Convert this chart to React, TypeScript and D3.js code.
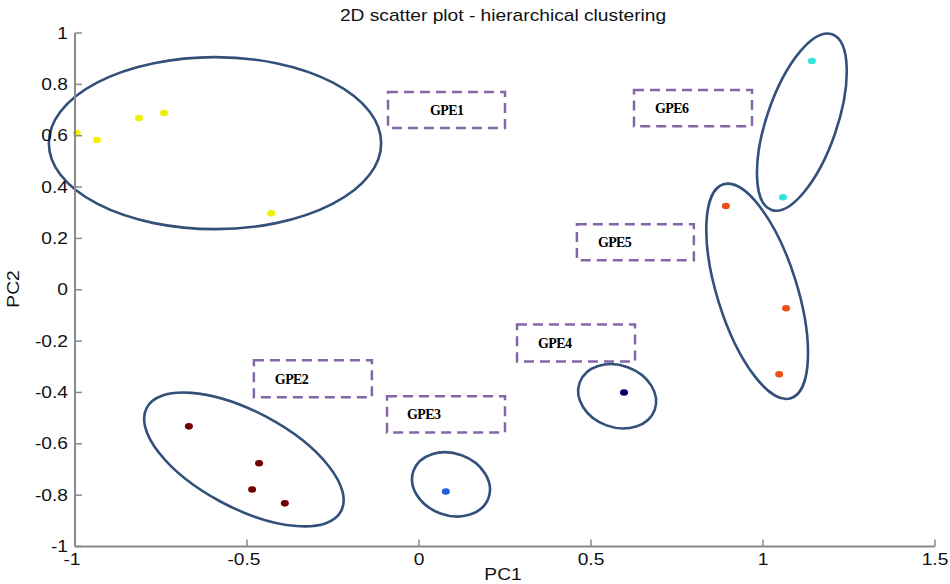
import React from "react";
import * as d3 from "d3";

const title = "2D scatter plot - hierarchical clustering";
const xLabel = "PC1";
const yLabel = "PC2";
const xTicks = [-1, -0.5, 0, 0.5, 1, 1.5];
const yTicks = [-1, -0.8, -0.6, -0.4, -0.2, 0, 0.2, 0.4, 0.6, 0.8, 1];

const clusterNames = ["GPE1", "GPE2", "GPE3", "GPE4", "GPE5", "GPE6"];
const clusterColors = ["#eef200", "#720000", "#1f5fe0", "#00006a", "#ec4f1c", "#34e4dc"];

const pointX = [-0.995, -0.936, -0.814, -0.741, -0.43, -0.669, -0.465, -0.485, -0.39, 0.078, 0.596, 0.892, 1.067, 1.047, 1.142, 1.058];
const pointY = [0.61, 0.583, 0.669, 0.688, 0.298, -0.532, -0.676, -0.778, -0.832, -0.786, -0.4, 0.326, -0.072, -0.329, 0.891, 0.36];
const pointCluster = [0, 0, 0, 0, 0, 1, 1, 1, 1, 2, 3, 4, 4, 4, 5, 5];

// cluster ellipses (center in PC units, semi-axes in PC1 units, angle in degrees)
const ellCx = [-0.593, -0.509, 0.093, 0.576, 0.983, 1.113];
const ellCy = [0.571, -0.661, -0.758, -0.415, -0.006, 0.653];
const ellA = [0.483, 0.32, 0.116, 0.116, 0.326, 0.27];
const ellB = [0.25, 0.14, 0.09, 0.09, 0.116, 0.102];
const ellAngle = [0, 28, 20, 20, 72.5, -71];

// annotation boxes (PC units)
const boxX0 = [-0.09, -0.48, -0.093, 0.285, 0.459, 0.625];
const boxX1 = [0.25, -0.137, 0.25, 0.628, 0.799, 0.968];
const boxY0 = [0.77, -0.275, -0.415, -0.135, 0.255, 0.778];
const boxY1 = [0.63, -0.419, -0.556, -0.279, 0.115, 0.637];
const labelX = [0.032, -0.419, -0.035, 0.346, 0.52, 0.686];

const W = 950;
const H = 584;
const left = 75;
const right = 935;
const top = 33;
const bottom = 546.5;
const stretch = 1.2;

function SText(props: {
  x: number;
  y: number;
  anchor?: string;
  size?: number;
  rotate?: number;
  children: React.ReactNode;
}) {
  const { x, y, anchor = "start", size = 16, rotate = 0, children } = props;
  return (
    <text
      transform={`translate(${x},${y}) rotate(${rotate}) scale(${stretch},1)`}
      textAnchor={anchor}
      fontSize={size}
      fill="#111"
    >
      {children}
    </text>
  );
}

export default function App() {
  const x = d3.scaleLinear().domain([-1, 1.5]).range([left, right]);
  const y = d3.scaleLinear().domain([-1, 1]).range([bottom, top]);
  const k = x(1) - x(0);
  const sans = "'Liberation Sans', Arial, sans-serif";
  const serif = "'Liberation Serif', 'Times New Roman', serif";
  const axisColor = "#8a8a8a";

  return (
    <svg
      width={W}
      height={H}
      style={{ position: "absolute", left: 0, top: 0, background: "#fff" }}
      fontFamily={sans}
    >
      <rect x={0} y={0} width={W} height={H} fill="#fff" />
      <SText x={503} y={21} anchor="middle" size={16}>
        {title}
      </SText>

      {/* annotation boxes */}
      {clusterNames.map((name, i) => {
        const bx = x(boxX0[i]);
        const by = y(boxY0[i]);
        const bw = x(boxX1[i]) - bx;
        const bh = y(boxY1[i]) - by;
        return (
          <g key={"box" + i}>
            <rect
              x={bx}
              y={by}
              width={bw}
              height={bh}
              fill="none"
              stroke="#8467a8"
              strokeWidth={2.5}
              strokeDasharray="10,6"
            />
            <text
              x={x(labelX[i])}
              y={by + bh / 2 + 5}
              fontFamily={serif}
              fontWeight="bold"
              fontSize={14}
              letterSpacing={-0.6}
              fill="#000"
            >
              {name}
            </text>
          </g>
        );
      })}

      {/* cluster ellipses */}
      {ellCx.map((cx, i) => (
        <ellipse
          key={"ell" + i}
          cx={0}
          cy={0}
          rx={ellA[i] * k}
          ry={ellB[i] * k}
          transform={`translate(${x(cx)},${y(ellCy[i])}) rotate(${ellAngle[i]})`}
          fill="none"
          stroke="#33507a"
          strokeWidth={2.6}
        />
      ))}

      {/* points */}
      {pointX.map((px, i) => (
        <ellipse
          key={"pt" + i}
          cx={x(px)}
          cy={y(pointY[i])}
          rx={4}
          ry={3.3}
          fill={clusterColors[pointCluster[i]]}
        />
      ))}

      {/* axes */}
      <line x1={left} x2={left} y1={top} y2={bottom} stroke={axisColor} strokeWidth={2} />
      <line x1={left} x2={right} y1={bottom} y2={bottom} stroke={axisColor} strokeWidth={2} />
      {yTicks.map((t) => (
        <g key={"yt" + t}>
          <line x1={left} x2={left + 7} y1={y(t)} y2={y(t)} stroke={axisColor} strokeWidth={1.5} />
          <SText x={left - 7} y={y(t) + 5.5} anchor="end">
            {String(t)}
          </SText>
        </g>
      ))}
      {xTicks.map((t) => (
        <g key={"xt" + t}>
          <line x1={x(t)} x2={x(t)} y1={bottom} y2={bottom - 7} stroke={axisColor} strokeWidth={1.5} />
          <SText x={x(t) - (t < 0 ? 3 : 0)} y={bottom + 18} anchor="middle">
            {String(t)}
          </SText>
        </g>
      ))}
      <SText x={503} y={580} anchor="middle">
        {xLabel}
      </SText>
      <SText x={19} y={289} anchor="middle" rotate={-90}>
        {yLabel}
      </SText>
    </svg>
  );
}
